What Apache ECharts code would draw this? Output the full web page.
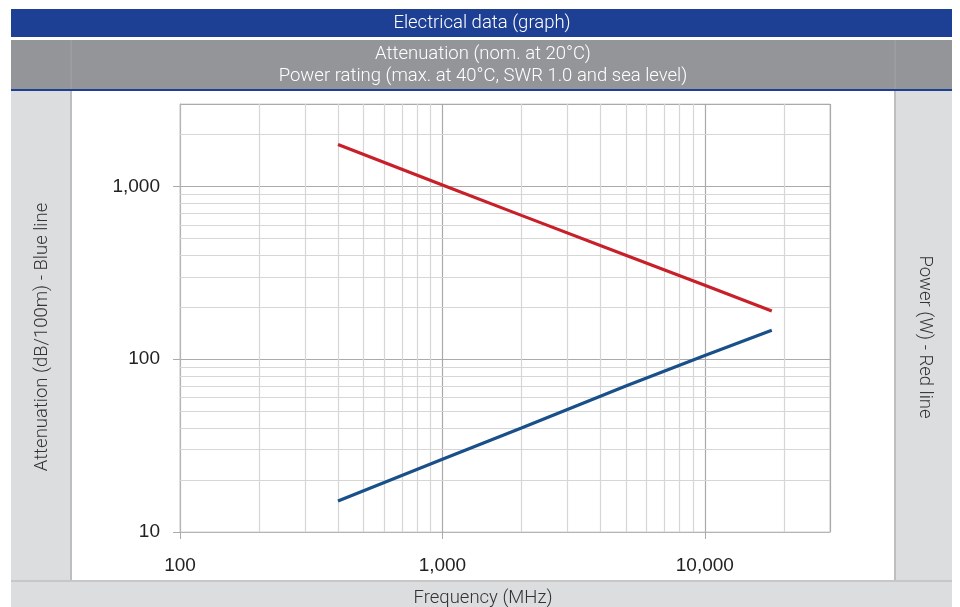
<!DOCTYPE html>
<html><head><meta charset="utf-8">
<script src="https://cdn.jsdelivr.net/npm/echarts@6/dist/echarts.min.js"></script>
<style>html,body{margin:0;padding:0;background:#fff}#c{width:960px;height:607px}</style>
</head><body><div id="c"></div>
<script>
const frequencies = [400, 1000, 2000, 5000, 10000, 18000];
const attenuation = [15.1, 26.4, 40, 70, 105, 147];
const power = [1750, 1020, 680, 400, 268, 190];
const xMinorGrid = [200,300,400,500,600,700,800,900,2000,3000,4000,5000,6000,7000,8000,9000,20000];
const yMinorGrid = [20,30,40,50,60,70,80,90,200,300,400,500,600,700,800,900,2000];
const xRange = [100, 30000];
const yRange = [10, 3000];

const chart = echarts.init(document.getElementById('c'), null, {renderer:'canvas'});
const fmt = v => Number(v).toLocaleString('en-US');
const F = '"Liberation Sans", Arial, sans-serif';
const TF = '300 18.5px Roboto, "Liberation Sans", sans-serif';

const minorLines = [];
xMinorGrid.forEach(v => minorLines.push({xAxis: v}));
yMinorGrid.forEach(v => minorLines.push({yAxis: v}));

chart.setOption({
  animation: false,
  backgroundColor: '#ffffff',
  graphic: [
    {type:'rect', shape:{x:11,y:9,width:941,height:28}, style:{fill:'#1d3f94'}, z:-10},
    {type:'rect', shape:{x:11,y:40,width:941,height:49}, style:{fill:'#939598'}, z:-10},
    {type:'rect', shape:{x:11,y:89,width:941,height:2}, style:{fill:'#1d3f94'}, z:-10},
    {type:'rect', shape:{x:70.5,y:40,width:1,height:49}, style:{fill:'#a3a4a7'}, z:-9},
    {type:'rect', shape:{x:894.5,y:40,width:1,height:49}, style:{fill:'#a3a4a7'}, z:-9},
    {type:'rect', shape:{x:11,y:91,width:60,height:490}, style:{fill:'#dcdddf'}, z:-10},
    {type:'rect', shape:{x:70,y:91,width:2,height:490}, style:{fill:'#bdbec0'}, z:-9},
    {type:'rect', shape:{x:895,y:91,width:57,height:490}, style:{fill:'#dcdddf'}, z:-10},
    {type:'rect', shape:{x:894,y:91,width:2,height:490}, style:{fill:'#bdbec0'}, z:-9},
    {type:'rect', shape:{x:11,y:581,width:941,height:26}, style:{fill:'#dcdddf'}, z:-10},
    {type:'rect', shape:{x:11,y:580,width:941,height:2}, style:{fill:'#c6c7c9'}, z:-9},
    {type:'text', x:482, y:23, style:{text:'Electrical data (graph)', fill:'#ffffff', font:TF, textAlign:'center', textVerticalAlign:'middle'}},
    {type:'text', x:483, y:54, style:{text:'Attenuation (nom. at 20\u00b0C)', fill:'#ffffff', font:TF, textAlign:'center', textVerticalAlign:'middle'}},
    {type:'text', x:483, y:76, style:{text:'Power rating (max. at 40\u00b0C, SWR 1.0 and sea level)', fill:'#ffffff', font:TF, textAlign:'center', textVerticalAlign:'middle'}},
    {type:'text', x:483, y:598, style:{text:'Frequency (MHz)', fill:'#333333', font:TF, textAlign:'center', textVerticalAlign:'middle'}},
    {type:'text', x:42, y:337, rotation:Math.PI/2, style:{text:'Attenuation (dB/100m) - Blue line', fill:'#333333', font:TF, textAlign:'center', textVerticalAlign:'middle'}},
    {type:'text', x:925, y:337, rotation:-Math.PI/2, style:{text:'Power (W) - Red line', fill:'#333333', font:TF, textAlign:'center', textVerticalAlign:'middle'}}
  ],
  grid: {left:180, right:130, top:104, bottom:75, show:true, borderColor:'#cfcfcf', borderWidth:1, backgroundColor:'transparent'},
  xAxis: {
    type:'log', logBase:10, min:xRange[0], max:xRange[1],
    axisLine:{show:true, lineStyle:{color:'#b5b5b5', width:1}},
    axisTick:{show:true, length:7, lineStyle:{color:'#aaaaaa'}},
    axisLabel:{formatter:fmt, color:'#222', fontSize:19, fontFamily:F, margin:24, showMaxLabel:false},
    splitLine:{show:true, lineStyle:{color:'#aaaaaa', width:1.2}}
  },
  yAxis: {
    type:'log', logBase:10, min:yRange[0], max:yRange[1],
    axisLine:{show:true, lineStyle:{color:'#b5b5b5', width:1}},
    axisTick:{show:true, length:7, lineStyle:{color:'#aaaaaa'}},
    axisLabel:{formatter:fmt, color:'#222', fontSize:19, fontFamily:F, margin:20, showMaxLabel:false},
    splitLine:{show:true, lineStyle:{color:'#aaaaaa', width:1.2}}
  },
  series: [
    {type:'line', name:'grid', data:[], silent:true, z:1,
     markLine:{silent:true, symbol:'none', label:{show:false}, animation:false,
       lineStyle:{color:'#d6d6d6', width:1.2, type:'solid'}, data:minorLines}},
    {type:'line', name:'Power', data:frequencies.map((f,i)=>[f, power[i]]), showSymbol:false, symbol:'none',
     lineStyle:{color:'#c8202b', width:3.2}, z:5},
    {type:'line', name:'Attenuation', data:frequencies.map((f,i)=>[f, attenuation[i]]), showSymbol:false, symbol:'none',
     lineStyle:{color:'#19508a', width:3.2}, z:5}
  ]
});
</script></body></html>
